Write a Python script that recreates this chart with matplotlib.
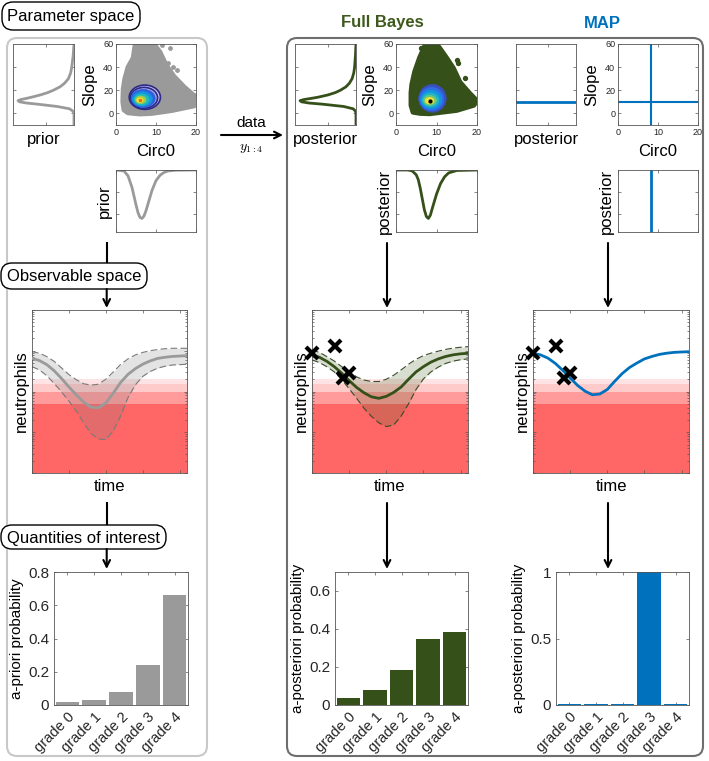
import matplotlib
matplotlib.use("Agg")
import matplotlib.pyplot as plt
from matplotlib.patches import FancyBboxPatch, Ellipse, Polygon

plt.rcParams['font.family'] = ['Liberation Sans', 'DejaVu Sans']
plt.rcParams['mathtext.fontset'] = 'cm'

W, H = 709, 761

GRAY = '#9a9a9a'
GREEN = '#36501a'
GREEN_T = '#3d5a1c'
BLUE = '#0072bd'

# ---------------- data ----------------
grades = ['grade 0', 'grade 1', 'grade 2', 'grade 3', 'grade 4']
p_prior = [0.018, 0.03, 0.08, 0.24, 0.664]
p_post = [0.0385, 0.077, 0.184, 0.345, 0.383]
p_map = [0.005, 0.005, 0.005, 1.0, 0.005]

# neutropenia grade thresholds (x10^9/L), light -> dark
thresholds = [2.0, 1.5, 1.0, 0.5, 0.01]
band_colors = ['#fde3e3', '#ffcaca', '#ff9b9b', '#ff6666']

days = list(range(22))
prior_med = [6.5, 5.75, 4.57, 3.24, 2.09, 1.29, 0.83, 0.55, 0.41, 0.40, 0.52,
             0.91, 1.66, 2.63, 3.63, 4.68, 5.62, 6.46, 6.92, 7.24, 7.41, 7.59]
prior_hi = [9.5, 8.7, 7.2, 5.5, 3.8, 2.6, 1.95, 1.55, 1.43, 1.51, 2.0,
            3.0, 4.6, 6.3, 7.9, 9.1, 10.0, 10.7, 11.2, 11.5, 11.5, 11.5]
prior_lo = [4.07, 3.39, 2.45, 1.58, 0.98, 0.58, 0.33, 0.17, 0.093, 0.068, 0.066,
            0.107, 0.25, 0.71, 1.45, 2.34, 3.09, 3.72, 4.17, 4.47, 4.57, 4.65]

post_med = [7.87, 6.92, 5.50, 4.07, 2.82, 1.86, 1.26, 0.93, 0.74, 0.68, 0.76,
            0.95, 1.29, 2.0, 3.02, 4.07, 5.25, 6.31, 7.24, 7.94, 8.41, 8.65]
post_hi = [10.4, 9.1, 7.2, 5.6, 4.07, 3.02, 2.29, 1.91, 1.76, 1.76, 2.0,
           2.51, 3.39, 4.68, 6.17, 7.59, 8.71, 9.77, 10.8, 11.6, 12.2, 12.6]
post_lo = [5.93, 5.13, 4.07, 3.02, 1.95, 1.17, 0.68, 0.39, 0.245, 0.17, 0.138,
           0.151, 0.25, 0.50, 1.12, 2.04, 3.02, 3.98, 4.90, 5.56, 6.03, 6.31]

map_curve = [8.65, 7.94, 6.61, 4.90, 3.31, 2.14, 1.41, 1.02, 0.83, 0.87, 1.12,
             1.78, 2.75, 3.89, 5.01, 6.31, 7.24, 8.13, 8.71, 9.12, 9.33, 9.48]

obs_t = [0, 3.1, 4.2, 5.0]
obs_y = [8.9, 13.3, 2.2, 2.8]

# marginal densities (scaled to peak 1)
slope_grid = [-10, 0, 2, 4, 6, 8, 9, 10, 11, 12, 13, 14, 16, 18, 20, 23, 26,
              30, 35, 40, 50, 60]
slope_prior = [0, 0, 0.02, 0.08, 0.3, 0.65, 0.85, 0.97, 1.0, 0.95, 0.85, 0.76,
               0.6, 0.47, 0.37, 0.25, 0.17, 0.1, 0.06, 0.04, 0.015, 0.0]
slope_post = [0, 0, 0.01, 0.05, 0.22, 0.6, 0.84, 0.97, 1.0, 0.93, 0.8, 0.68,
              0.5, 0.37, 0.28, 0.18, 0.12, 0.07, 0.04, 0.025, 0.01, 0.0]

circ_grid = [0, 2, 3, 4, 5, 5.5, 6, 6.5, 7, 7.5, 8, 8.5, 9, 10, 11, 12, 13,
             15, 20]
circ_prior = [0, 0.02, 0.12, 0.36, 0.72, 0.88, 0.98, 1.0, 0.95, 0.84, 0.7,
              0.56, 0.42, 0.22, 0.11, 0.05, 0.02, 0.005, 0]
circ_post = [0, 0, 0, 0.02, 0.1, 0.2, 0.38, 0.6, 0.82, 0.96, 1.0, 0.93, 0.78,
             0.5, 0.28, 0.14, 0.06, 0.01, 0]

slope_map = 9.5
circ_map = 8.3

# sample clouds (outline of the scatter) and a few outliers
prior_cloud_c = [4.8, 4.3, 3.0, 2.2, 1.8, 1.7, 2.0, 3.0, 6, 9, 14, 19.5, 20,
                 19.5, 17, 14.5, 12.5, 11, 9.7, 8.5]
prior_cloud_s = [60, 48, 40, 30, 21, 10, 3, 0.5, -0.5, 0, 2.5, 6.5, 11, 15.5,
                 23, 32, 42, 53, 59, 60]
prior_out_c = [13.1, 14.3, 15.2, 13.5, 11.4, 19.6]
prior_out_s = [43.4, 40.5, 37.6, 56.5, 59.5, 16]
post_cloud_c = [7.3, 5.8, 4.6, 3.9, 3.7, 3.7, 4.2, 6, 8.3, 15, 19.2, 20, 18.3,
                15.8, 14.2, 12.5, 10.8, 10]
post_cloud_s = [60, 48, 36, 25, 18, 7, 1, 0, -0.3, 2.6, 7, 11, 17, 27, 39,
                48, 56.5, 60]
post_out_c = [9.6, 15.0, 15.4, 17.1, 6.2]
post_out_s = [59.5, 46.3, 43.4, 30.3, 56.7]

# density contours: centre and half extents of each level
prior_lev_c = [7.2, 7.0, 6.8, 6.6, 6.4, 6.2, 6.0]
prior_lev_s = [14, 13.5, 13, 12.5, 12, 11.8, 11.5]
prior_lev_wc = [3.9, 3.4, 3.0, 2.5, 1.9, 1.3, 0.8]
prior_lev_ws = [10.5, 9, 7.8, 6.3, 4.8, 3.3, 2.0]
prior_lev_col = ['#c4bfee', '#aaa8ea', '#2d5fe0', '#1592e0', '#20bcbc',
                 '#9fcb50', '#f5e12a']
post_lev_c = [9.0, 8.8, 8.7, 8.5, 8.4, 8.3]
post_lev_s = [13, 12.5, 12, 11.6, 11.3, 11.0]
post_lev_wc = [3.4, 3.0, 2.6, 2.1, 1.6, 1.1]
post_lev_ws = [12, 10, 8, 6, 4.3, 2.8]
post_lev_col = ['#3a4fc0', '#2c6fe6', '#1592e0', '#20b6c8', '#6cc67c',
                '#ece03a']

fig = plt.figure(figsize=(W / 100, H / 100), dpi=100)


def px_axes(x0, y0, x1, y1, **kw):
    return fig.add_axes([x0 / W, 1 - y1 / H, (x1 - x0) / W, (y1 - y0) / H], **kw)


def box_style(ax):
    for sp in ax.spines.values():
        sp.set_color('#555555')
        sp.set_linewidth(0.6)
    ax.tick_params(direction='in', top=True, right=True, which='both',
                   length=2.5, width=0.5, colors='#555555', labelcolor='#262626')


# overlay for frames, arrows and labels
ov = fig.add_axes([0, 0, 1, 1], zorder=-1)
ov.set_xlim(0, W)
ov.set_ylim(H, 0)
ov.axis('off')

ov.add_patch(FancyBboxPatch((7, 38), 200, 718, boxstyle='round,pad=0,rounding_size=10',
                            fc='none', ec='#c8c8c8', lw=1.5))
ov.add_patch(FancyBboxPatch((287, 38), 416, 718, boxstyle='round,pad=0,rounding_size=10',
                            fc='none', ec='#6e6e6e', lw=1.5))

for (x0, y0, x1, y1, txt) in [(2, 2, 140, 30, 'Parameter space'),
                              (1, 263, 147, 289, 'Observable space'),
                              (1, 525, 166, 549, 'Quantities of interest')]:
    ov.add_patch(FancyBboxPatch((x0, y0), x1 - x0, y1 - y0,
                                boxstyle='round,pad=0,rounding_size=11',
                                fc='white', ec='black', lw=1, zorder=3))
    ov.text((x0 + x1) / 2, (y0 + y1) / 2 + 1, txt, ha='center', va='center',
            fontsize=12, zorder=4)

arrow_kw = dict(arrowstyle='->', color='black', lw=1.5, mutation_scale=12,
                shrinkA=0, shrinkB=0)
# left column: line into label box, arrow out of it
ov.plot([106.7, 106.7], [243, 263], color='black', lw=1.5)
ov.plot([106.7, 106.7], [503, 525], color='black', lw=1.5)
for x, y0, y1 in [(106.7, 289, 308), (106.7, 549, 569),
                  (387, 243, 308), (387, 503, 569),
                  (608, 243, 308), (608, 503, 569)]:
    ov.annotate('', xy=(x, y1), xytext=(x, y0), arrowprops=arrow_kw)
ov.annotate('', xy=(283, 135), xytext=(221, 135), arrowprops=arrow_kw)
ov.text(251, 123, 'data', ha='center', va='center', fontsize=11)
ov.text(251, 148, r'$y_{1:4}$', ha='center', va='center', fontsize=10)

ov.text(382, 23, 'Full Bayes', ha='center', va='center', fontsize=12,
        fontweight='bold', color=GREEN_T)
ov.text(602, 23, 'MAP', ha='center', va='center', fontsize=12,
        fontweight='bold', color=BLUE)

# ---------------- parameter space row ----------------
def slope_density(x0, x1, vals, color, label):
    ax = px_axes(x0, 44, x1, 125)
    box_style(ax)
    if vals is None:
        ax.axhline(slope_map, color=color, lw=2)
    else:
        ax.plot(vals, slope_grid, color=color, lw=2)
    ax.set_xlim(1.09, 0)
    ax.set_ylim(-10, 60)
    ax.set_yticks([0, 20, 40])
    ax.set_xticks([0.5])
    ax.tick_params(labelleft=False, labelbottom=False)
    ax.set_xlabel(label, fontsize=12, labelpad=5)
    return ax


def circ_density(x0, x1, vals, color, label):
    ax = px_axes(x0, 170, x1, 232)
    box_style(ax)
    if vals is None:
        ax.axvline(circ_map, color=color, lw=2)
    else:
        ax.plot(circ_grid, vals, color=color, lw=2)
    ax.set_xlim(0, 20)
    ax.set_ylim(1.28, 0)
    ax.set_xticks([0, 10, 20])
    ax.set_yticks([0.45, 0.9])
    ax.tick_params(labelleft=False, labelbottom=False)
    ax.set_ylabel(label, fontsize=12, labelpad=3)
    return ax


def scatter_axes(x0, x1):
    ax = px_axes(x0, 44, x1, 125)
    box_style(ax)
    ax.set_xlim(0, 20)
    ax.set_ylim(-10, 60)
    ax.set_xticks([0, 10, 20])
    ax.set_yticks([0, 20, 40, 60])
    ax.tick_params(labelsize=6.5, pad=2)
    ax.set_xlabel('Circ0', fontsize=12, labelpad=5)
    ax.set_ylabel('Slope', fontsize=12, labelpad=4)
    return ax


def contour_levels(ax, cs, ss, wcs, wss, cols, outline):
    for i, (c, s, wc, ws, col) in enumerate(zip(cs, ss, wcs, wss, cols)):
        ec = '#2c2a86' if (outline and i < 2) else col
        ax.add_patch(Ellipse((c, s), 2 * wc, 2 * ws, fc=col, ec=ec,
                             lw=1.2 if outline and i < 2 else 0.5, zorder=3))


slope_density(13, 74, slope_prior, GRAY, 'prior')
ax = scatter_axes(116, 196)
ax.add_patch(Polygon(list(zip(prior_cloud_c, prior_cloud_s)), closed=True,
                     fc=GRAY, ec=GRAY, lw=3.5, joinstyle='round', zorder=2))
ax.scatter(prior_out_c, prior_out_s, s=6, color=GRAY, zorder=2)
contour_levels(ax, prior_lev_c, prior_lev_s, prior_lev_wc, prior_lev_ws,
               prior_lev_col, True)
ax.plot([prior_lev_c[-1]], [prior_lev_s[-1]], 'o', ms=1.5, color='#e07020', zorder=4)
circ_density(116, 196, circ_prior, GRAY, 'prior')

slope_density(295, 356, slope_post, GREEN, 'posterior')
ax = scatter_axes(396, 477)
ax.add_patch(Polygon(list(zip(post_cloud_c, post_cloud_s)), closed=True,
                     fc=GREEN, ec=GREEN, lw=3.5, joinstyle='round', zorder=2))
ax.scatter(post_out_c, post_out_s, s=8, color=GREEN, zorder=2)
contour_levels(ax, post_lev_c, post_lev_s, post_lev_wc, post_lev_ws,
               post_lev_col, False)
ax.plot([post_lev_c[-1]], [post_lev_s[-1] - 0.3], 'o', ms=2, color='black', zorder=4)
circ_density(396, 477, circ_post, GREEN, 'posterior')

slope_density(516, 576, None, BLUE, 'posterior')
ax = scatter_axes(618, 698)
ax.axhline(slope_map, color=BLUE, lw=1.5)
ax.axvline(circ_map, color=BLUE, lw=1.5)
circ_density(618, 698, None, BLUE, 'posterior')

# ---------------- observable space row ----------------
def time_axes(x0, x1):
    ax = px_axes(x0, 310, x1, 473)
    box_style(ax)
    ax.set_yscale('log')
    ax.set_xlim(0, 21)
    ax.set_ylim(0.01, 100)
    for i in range(4):
        ax.axhspan(thresholds[i + 1], thresholds[i], color=band_colors[i],
                   lw=0, zorder=0)
    ax.set_xticks([0, 5, 10, 15, 20])
    ax.tick_params(labelleft=False, labelbottom=False, which='both')
    ax.tick_params(which='minor', length=1.5)
    ax.set_xlabel('time', fontsize=12, labelpad=4)
    ax.set_ylabel('neutrophils', fontsize=12, labelpad=2)
    return ax


ax = time_axes(32, 187)
ax.fill_between(days, prior_lo, prior_hi, color='#808080', alpha=0.22, lw=0, zorder=1)
ax.plot(days, prior_hi, color='#7a7a7a', lw=0.8, dashes=(6, 3), zorder=2)
ax.plot(days, prior_lo, color='#7a7a7a', lw=0.8, dashes=(6, 3), zorder=2)
ax.plot(days, prior_med, color=GRAY, lw=2, zorder=3)

ax = time_axes(312, 468)
ax.fill_between(days, post_lo, post_hi, color='#4a6a2a', alpha=0.22, lw=0, zorder=1)
ax.plot(days, post_hi, color='#3a4a2a', lw=0.8, dashes=(6, 3), zorder=2)
ax.plot(days, post_lo, color='#3a4a2a', lw=0.8, dashes=(6, 3), zorder=2)
ax.plot(days, post_med, color=GREEN, lw=2, zorder=3)
ax.plot(obs_t, obs_y, 'x', color='black', ms=8, mew=3, clip_on=False, zorder=5)

ax = time_axes(533, 689)
ax.plot(days, map_curve, color=BLUE, lw=2, zorder=3)
ax.plot(obs_t, obs_y, 'x', color='black', ms=8, mew=3, clip_on=False, zorder=5)

# ---------------- quantities of interest row ----------------
def bar_axes(x0, x1, vals, color, ylim, yticks, ylabels, ylabel):
    ax = px_axes(x0, 572, x1, 705)
    box_style(ax)
    ax.bar(range(1, 6), vals, width=0.88, color=color, lw=0, zorder=2)
    ax.set_xlim(0.5, 5.5)
    ax.set_ylim(*ylim)
    ax.set_xticks(range(1, 6))
    ax.set_xticklabels(grades, rotation=45, ha='right', rotation_mode='anchor',
                       fontsize=10.5)
    ax.set_yticks(yticks)
    ax.set_yticklabels(ylabels, fontsize=11)
    ax.set_ylabel(ylabel, fontsize=11, labelpad=3)
    return ax


bar_axes(54, 188, p_prior, GRAY, (0, 0.8), [0, 0.2, 0.4, 0.6, 0.8],
         ['0', '0.2', '0.4', '0.6', '0.8'], 'a-priori probability')
bar_axes(335, 468, p_post, GREEN, (0, 0.7), [0, 0.2, 0.4, 0.6],
         ['0', '0.2', '0.4', '0.6'], 'a-posteriori probability')
bar_axes(556, 689, p_map, BLUE, (0, 1), [0, 0.5, 1],
         ['0', '0.5', '1'], 'a-posteriori probability')

fig.savefig('out.png', dpi=100)
